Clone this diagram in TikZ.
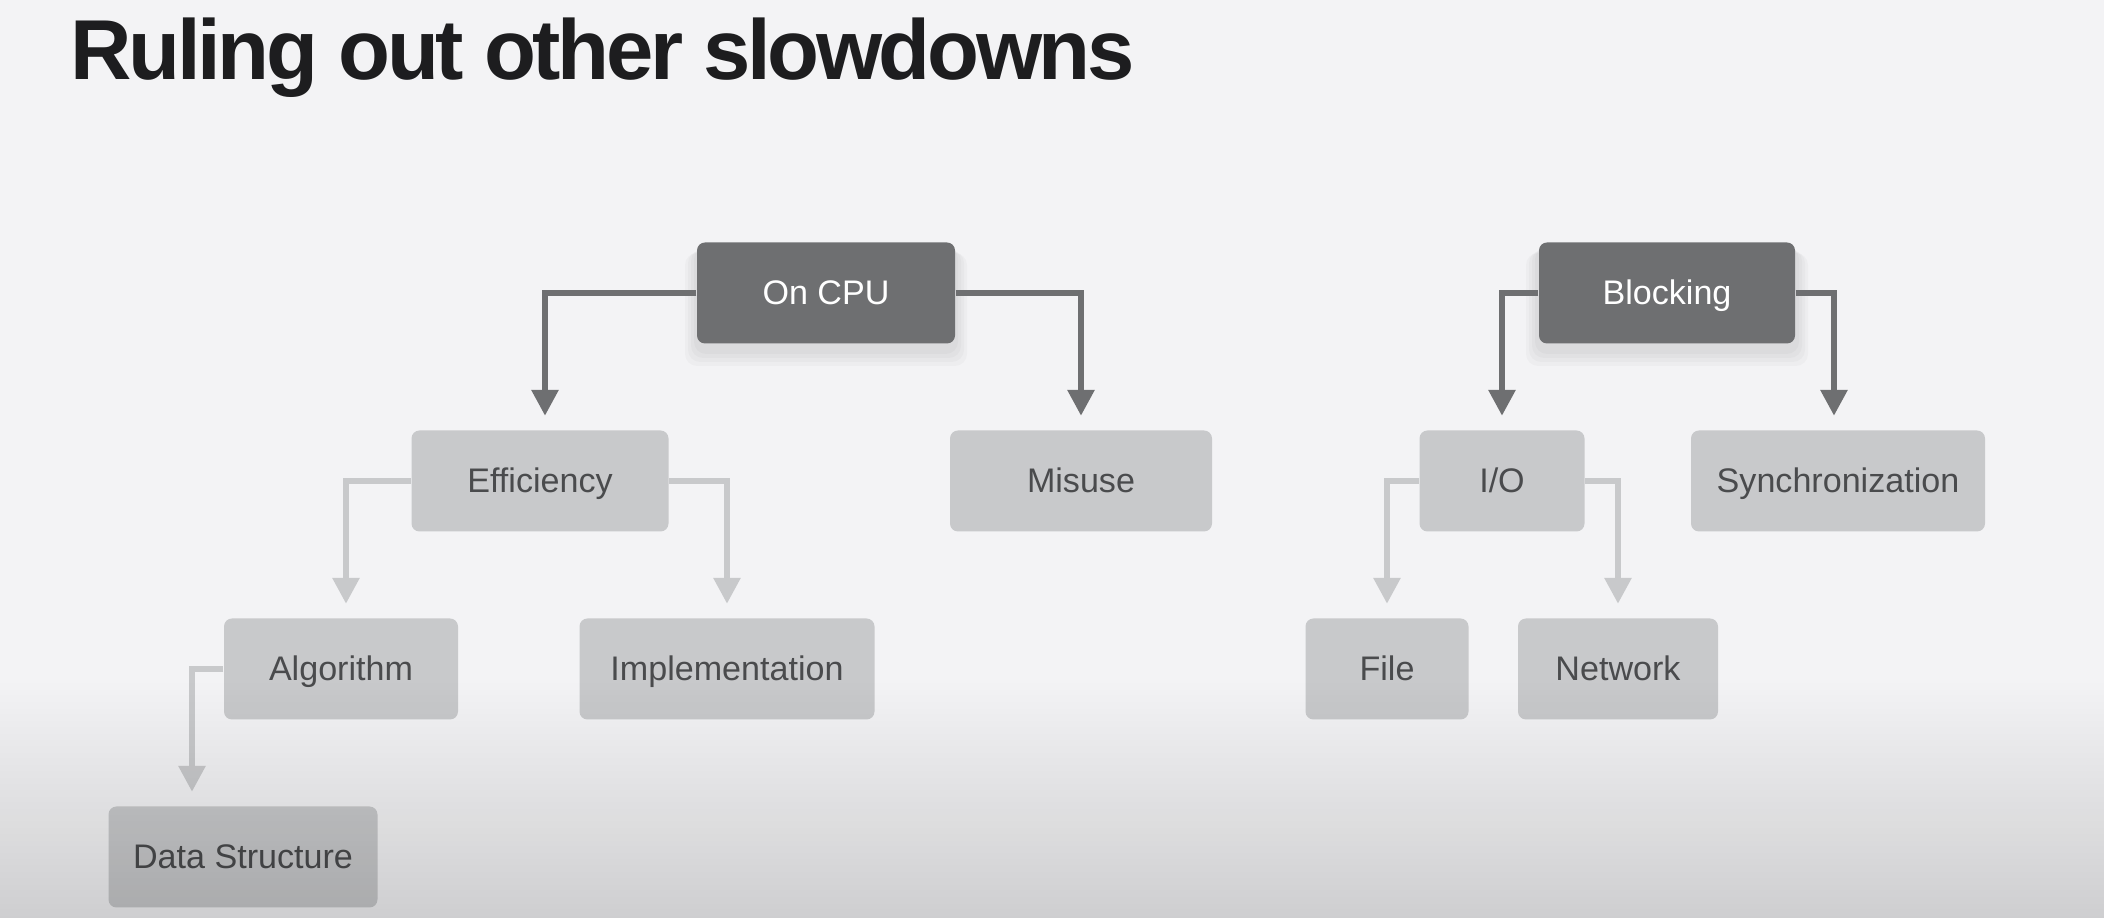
\documentclass[tikz,border=0pt]{standalone}
\usepackage{fontspec}
\setmainfont{Liberation Sans}
\newfontfamily\titlefont[LetterSpace=-4]{Liberation Sans}
\usetikzlibrary{arrows.meta,fadings}
\definecolor{bgcol}{HTML}{F3F3F5}
\definecolor{titlecol}{HTML}{1D1D1F}
\definecolor{boxdark}{HTML}{6E6F71}
\definecolor{boxlight}{HTML}{C8C9CB}
\definecolor{boxtext}{HTML}{4A4B4D}
\tikzfading[name=fadedown, top color=transparent!100, bottom color=transparent!0]
\tikzset{
  box/.style={rounded corners=0.8mm, minimum height=10.1mm, inner sep=0pt, text height=7pt, text depth=0.2pt,
    fill=boxlight, text=boxtext},
  topbox/.style={box, fill=boxdark, text=white},
  link/.style={->, line width=0.6mm, draw=boxlight, shorten >=1.4mm},
  toplink/.style={link, draw=boxdark}
}
\begin{document}
\begin{tikzpicture}[x=0.1mm,y=-0.1mm,>={Triangle[width=2.6mm,length=2.6mm]},font=\fontsize{9.7}{11.6}\selectfont]
  \fill[bgcol] (0,0) rectangle (2104,918);
  \node[anchor=base west, inner sep=0pt, text=titlecol, font=\titlefont\bfseries\fontsize{24.2}{29}\selectfont] (title) at (70,80) {Ruling out other slowdowns};
  % soft shadows under the top boxes
  \foreach \c in {826,1667}
    \foreach \g in {1,2,3,4}
      \fill[black, opacity=0.025, rounded corners=1.2mm] (\c-129-\g*3,245+\g*2) rectangle (\c+129+\g*3,350+\g*4);
  % top level
  \node[topbox, minimum width=25.8mm] (oncpu) at (826,293) {On CPU};
  \node[topbox, minimum width=25.6mm] (blocking) at (1667,293) {Blocking};
  % second level
  \node[box, minimum width=25.7mm] (eff) at (540,481) {Efficiency};
  \node[box, minimum width=26.2mm] (misuse) at (1081,481) {Misuse};
  \node[box, minimum width=16.5mm] (io) at (1502,481) {I/O};
  \node[box, minimum width=29.4mm] (sync) at (1838,481) {Synchronization};
  % third level
  \node[box, minimum width=23.4mm] (algo) at (341,669) {Algorithm};
  \node[box, minimum width=29.5mm] (impl) at (727,669) {Implementation};
  \node[box, minimum width=16.3mm] (file) at (1387,669) {File};
  \node[box, minimum width=20.0mm] (net) at (1618,669) {Network};
  % fourth level
  \node[box, minimum width=26.9mm] (ds) at (243,857) {Data Structure};
  % connectors
  \draw[toplink] (oncpu) -| ([xshift=0.5mm]eff.north);
  \draw[toplink] (oncpu) -| (misuse);
  \draw[toplink] (blocking) -| (io);
  \draw[toplink] (blocking) -| ([xshift=-0.4mm]sync.north);
  \draw[link] (eff) -| ([xshift=0.5mm]algo.north);
  \draw[link] (eff) -| (impl);
  \draw[link] (algo) -| ([xshift=-5.1mm]ds.north);
  \draw[link] (io) -| (file);
  \draw[link] (io) -| (net);
  % darker bottom
  \fill[black, opacity=0.15, path fading=fadedown] (0,680) rectangle (2104,918);
\end{tikzpicture}
\end{document}
